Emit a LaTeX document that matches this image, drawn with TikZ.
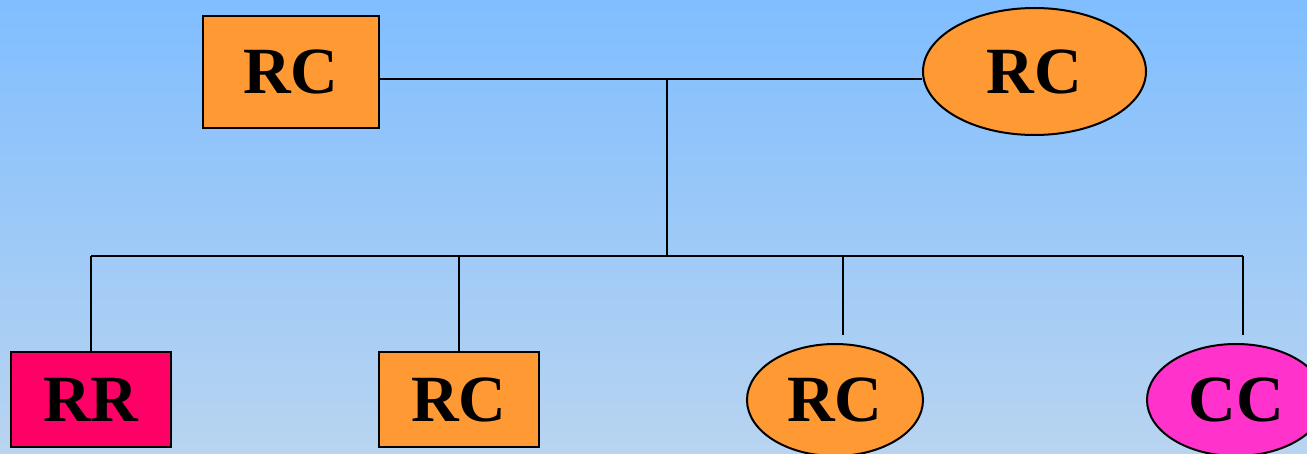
\documentclass[tikz,border=0pt]{standalone}
\usepackage{fontspec}
\setmainfont{Liberation Serif}
\usetikzlibrary{shapes.geometric}
\definecolor{bgtop}{RGB}{128,190,255}
\definecolor{bgbot}{RGB}{184,212,240}
\definecolor{orng}{RGB}{255,153,51}
\definecolor{rrcol}{RGB}{255,0,102}
\definecolor{cccol}{RGB}{255,51,204}
\tikzset{
  lbl/.style={font=\fontsize{66}{66}\selectfont\bfseries, text=black, inner sep=0pt, draw=black, line width=2pt},
  boxnode/.style={lbl, rectangle},
  ellnode/.style={lbl, ellipse},
  conn/.style={draw=black, line width=2pt}
}
\begin{document}
\begin{tikzpicture}[x=1pt,y=-1pt]
\useasboundingbox (0,0) rectangle (1307,454);
\clip (0,0) rectangle (1307,454);
\shade[top color=bgtop, bottom color=bgbot] (0,0) rectangle (1307,454);
\node[boxnode, fill=orng, minimum width=176pt, minimum height=112pt] (tl) at (291,72) {RC};
\node[ellnode, fill=orng, minimum width=223pt, minimum height=127pt] (tr) at (1034.5,71.5) {RC};
\node[boxnode, fill=rrcol, minimum width=160pt, minimum height=95pt] (rr) at (91,399.5) {RR};
\node[boxnode, fill=orng, minimum width=160pt, minimum height=95pt] (rc2) at (459,399.5) {RC};
\node[ellnode, fill=orng, minimum width=176pt, minimum height=112pt] (rc3) at (835,400) {RC};
\node[ellnode, fill=cccol, minimum width=178pt, minimum height=112pt] (cc) at (1236,400) {CC};
\coordinate (hub) at (667,79);
\coordinate (bus) at (667,256);
\coordinate (b1) at (91,256);
\coordinate (b2) at (459,256);
\coordinate (b3) at (843,256);
\coordinate (b4) at (1243,256);
\coordinate (e3) at (843,335);
\coordinate (e4) at (1243,335);
\draw[conn] (tl.east |- hub) -- (tr.west |- hub);
\draw[conn] (hub) -- (bus);
\draw[conn] (b1) -- (b4);
\draw[conn] (b1) -- (rr.north);
\draw[conn] (b2) -- (rc2.north);
\draw[conn] (b3) -- (e3);
\draw[conn] (b4) -- (e4);
\end{tikzpicture}
\end{document}
